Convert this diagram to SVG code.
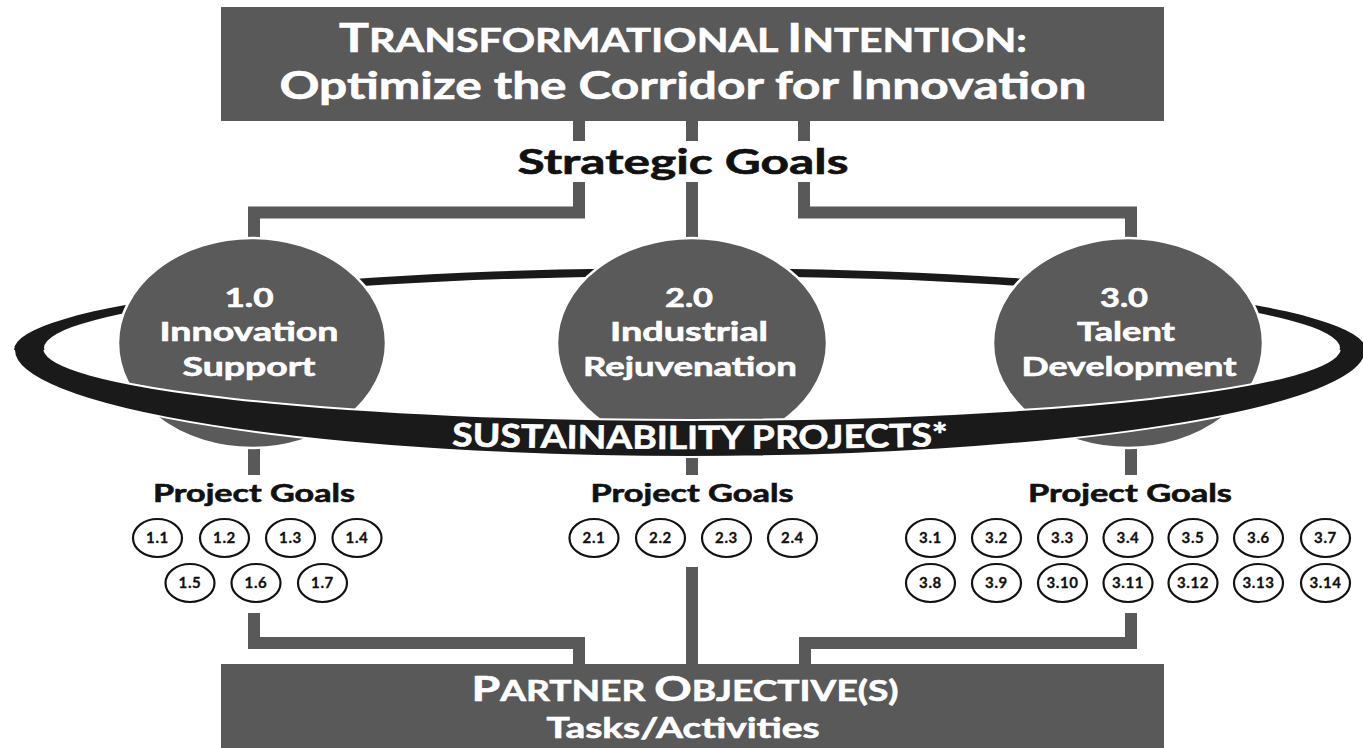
<svg xmlns="http://www.w3.org/2000/svg" width="1363" height="748" viewBox="0 0 1363 748">
<style>
.box{fill:#595959}
.big{fill:#5a5a5a;stroke:#fff;stroke-width:2.5}
.ring{fill:#1a1a1a;fill-rule:evenodd}
.ringf{fill:#1a1a1a;fill-rule:evenodd;stroke:#fff;stroke-width:2}
.con{fill:none;stroke:#595959;stroke-width:12;stroke-linejoin:miter;stroke-linecap:butt}
.bub{fill:#fff;stroke:#111;stroke-width:2.2}
.wt{font-family:Lato,"Open Sans","Liberation Sans",sans-serif;font-weight:700;fill:#fff;stroke:#fff;stroke-width:0.6;text-anchor:middle}
.bt{font-family:Lato,"Open Sans","Liberation Sans",sans-serif;font-weight:700;fill:#111;stroke:#111;stroke-width:0.6;text-anchor:middle}
.bn{font-family:Lato,"Open Sans","Liberation Sans",sans-serif;font-weight:700;fill:#111;stroke:#111;stroke-width:0.3;text-anchor:middle;font-size:15px;letter-spacing:0.6px}
</style>
<defs>
<clipPath id="front"><rect x="0" y="350" width="1363" height="200"/></clipPath>
<path id="ringPath" d="M 14 350 A 676 82 0 0 1 1366 350 A 676 107 0 0 1 14 350 Z M 44 348 A 648 72 0 0 1 1340 348 A 648 72 0 0 1 44 348 Z"/>
<path id="sustPath" d="M -300 354 A 1000 95 0 0 0 1700 354"/>
</defs>
<rect width="1363" height="748" fill="#fff"/>

<g id="connectors">
<path class="con" d="M 579 121 V 141"/>
<path class="con" d="M 692 121 V 141"/>
<path class="con" d="M 804 121 V 141"/>
<path class="con" d="M 579 182 V 212.5 H 254 V 245"/>
<path class="con" d="M 692 182 V 245"/>
<path class="con" d="M 804 182 V 212.5 H 1131 V 245"/>
<path class="con" d="M 254 440 V 475"/>
<path class="con" d="M 692 450 V 475"/>
<path class="con" d="M 1131 440 V 475"/>
<path class="con" d="M 254 613 V 643 H 579 V 666"/>
<path class="con" d="M 692 567 V 666"/>
<path class="con" d="M 1131 613 V 643 H 805 V 666"/>
</g>

<g id="top-box">
<rect class="box" x="221" y="7" width="943" height="114"/>
<text class="wt" x="683" y="52" textLength="688" lengthAdjust="spacingAndGlyphs"><tspan font-size="40">T</tspan><tspan font-size="33">RANSFORMATIONAL </tspan><tspan font-size="40">I</tspan><tspan font-size="33">NTENTION:</tspan></text>
<text class="wt" x="683" y="99" font-size="38" textLength="807" lengthAdjust="spacingAndGlyphs">Optimize the Corridor for Innovation</text>
</g>

<g id="strategic-goals">
<text class="bt" x="683" y="174" font-size="35" textLength="331" lengthAdjust="spacingAndGlyphs">Strategic Goals</text>
</g>

<g id="ring-back">
<use href="#ringPath" class="ring"/>
</g>

<g id="goal-1">
<ellipse class="big" cx="252" cy="343" rx="134" ry="105"/>
<text class="wt" x="249" y="307" font-size="26" textLength="49" lengthAdjust="spacingAndGlyphs">1.0</text>
<text class="wt" x="249" y="341" font-size="26" textLength="179" lengthAdjust="spacingAndGlyphs">Innovation</text>
<text class="wt" x="249" y="376" font-size="26" textLength="133" lengthAdjust="spacingAndGlyphs">Support</text>
</g>
<g id="goal-2">
<ellipse class="big" cx="692" cy="343" rx="135" ry="105"/>
<text class="wt" x="689" y="307" font-size="26" textLength="48" lengthAdjust="spacingAndGlyphs">2.0</text>
<text class="wt" x="689" y="341" font-size="26" textLength="158" lengthAdjust="spacingAndGlyphs">Industrial</text>
<text class="wt" x="690" y="376" font-size="26" textLength="214" lengthAdjust="spacingAndGlyphs">Rejuvenation</text>
</g>
<g id="goal-3">
<ellipse class="big" cx="1128" cy="343" rx="135" ry="105"/>
<text class="wt" x="1124" y="307" font-size="26" textLength="48" lengthAdjust="spacingAndGlyphs">3.0</text>
<text class="wt" x="1126" y="341" font-size="26" textLength="98" lengthAdjust="spacingAndGlyphs">Talent</text>
<text class="wt" x="1129" y="376" font-size="26" textLength="215" lengthAdjust="spacingAndGlyphs">Development</text>
</g>

<g id="ring-front">
<use href="#ringPath" class="ringf" clip-path="url(#front)"/>
<text class="wt" font-size="32"><textPath href="#sustPath" startOffset="50%" textLength="496" lengthAdjust="spacingAndGlyphs">SUSTAINABILITY PROJECTS*</textPath></text>
</g>

<g id="project-goals-1">
<text class="bt" x="254" y="502" font-size="24" textLength="202" lengthAdjust="spacingAndGlyphs">Project Goals</text>
<ellipse class="bub" cx="157.5" cy="538" rx="24.5" ry="19"/><text class="bn" x="157.5" y="543">1.1</text>
<ellipse class="bub" cx="224.5" cy="538" rx="24.5" ry="19"/><text class="bn" x="224.5" y="543">1.2</text>
<ellipse class="bub" cx="290.5" cy="538" rx="24.5" ry="19"/><text class="bn" x="290.5" y="543">1.3</text>
<ellipse class="bub" cx="357" cy="538" rx="24.5" ry="19"/><text class="bn" x="357" y="543">1.4</text>
<ellipse class="bub" cx="190" cy="583" rx="24.5" ry="19"/><text class="bn" x="190" y="588">1.5</text>
<ellipse class="bub" cx="256" cy="583" rx="24.5" ry="19"/><text class="bn" x="256" y="588">1.6</text>
<ellipse class="bub" cx="322.5" cy="583" rx="24.5" ry="19"/><text class="bn" x="322.5" y="588">1.7</text>
</g>

<g id="project-goals-2">
<text class="bt" x="692" y="502" font-size="24" textLength="203" lengthAdjust="spacingAndGlyphs">Project Goals</text>
<ellipse class="bub" cx="594" cy="538" rx="24.5" ry="19"/><text class="bn" x="594" y="543">2.1</text>
<ellipse class="bub" cx="660.5" cy="538" rx="24.5" ry="19"/><text class="bn" x="660.5" y="543">2.2</text>
<ellipse class="bub" cx="726.5" cy="538" rx="24.5" ry="19"/><text class="bn" x="726.5" y="543">2.3</text>
<ellipse class="bub" cx="792.5" cy="538" rx="24.5" ry="19"/><text class="bn" x="792.5" y="543">2.4</text>
</g>

<g id="project-goals-3">
<text class="bt" x="1130" y="502" font-size="24" textLength="204" lengthAdjust="spacingAndGlyphs">Project Goals</text>
<ellipse class="bub" cx="930.5" cy="538" rx="24.5" ry="19"/><text class="bn" x="930.5" y="543">3.1</text>
<ellipse class="bub" cx="996.5" cy="538" rx="24.5" ry="19"/><text class="bn" x="996.5" y="543">3.2</text>
<ellipse class="bub" cx="1062.5" cy="538" rx="24.5" ry="19"/><text class="bn" x="1062.5" y="543">3.3</text>
<ellipse class="bub" cx="1128" cy="538" rx="24.5" ry="19"/><text class="bn" x="1128" y="543">3.4</text>
<ellipse class="bub" cx="1193" cy="538" rx="24.5" ry="19"/><text class="bn" x="1193" y="543">3.5</text>
<ellipse class="bub" cx="1258.5" cy="538" rx="24.5" ry="19"/><text class="bn" x="1258.5" y="543">3.6</text>
<ellipse class="bub" cx="1325.5" cy="538" rx="24.5" ry="19"/><text class="bn" x="1325.5" y="543">3.7</text>
<ellipse class="bub" cx="930.5" cy="583" rx="24.5" ry="19"/><text class="bn" x="930.5" y="588">3.8</text>
<ellipse class="bub" cx="996.5" cy="583" rx="24.5" ry="19"/><text class="bn" x="996.5" y="588">3.9</text>
<ellipse class="bub" cx="1062.5" cy="583" rx="24.5" ry="19"/><text class="bn" x="1062.5" y="588">3.10</text>
<ellipse class="bub" cx="1128" cy="583" rx="24.5" ry="19"/><text class="bn" x="1128" y="588">3.11</text>
<ellipse class="bub" cx="1193" cy="583" rx="24.5" ry="19"/><text class="bn" x="1193" y="588">3.12</text>
<ellipse class="bub" cx="1258.5" cy="583" rx="24.5" ry="19"/><text class="bn" x="1258.5" y="588">3.13</text>
<ellipse class="bub" cx="1325.5" cy="583" rx="24.5" ry="19"/><text class="bn" x="1325.5" y="588">3.14</text>
</g>

<g id="bottom-box">
<rect class="box" x="221" y="664" width="943" height="90"/>
<text class="wt" x="685" y="701" textLength="427" lengthAdjust="spacingAndGlyphs"><tspan font-size="35">P</tspan><tspan font-size="28">ARTNER </tspan><tspan font-size="35">O</tspan><tspan font-size="28">BJECTIVE(S)</tspan></text>
<text class="wt" x="683" y="738" font-size="28" textLength="273" lengthAdjust="spacingAndGlyphs">Tasks/Activities</text>
</g>
</svg>
